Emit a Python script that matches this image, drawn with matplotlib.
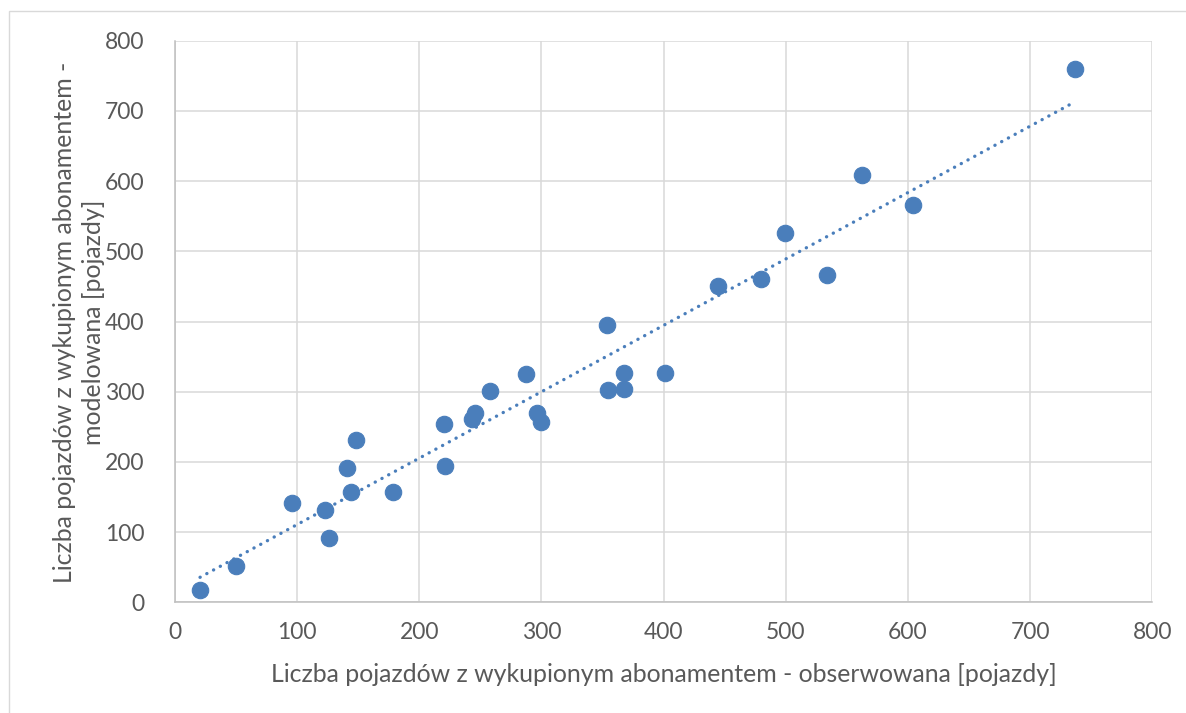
import numpy as np
import matplotlib
matplotlib.use("Agg")
import matplotlib.pyplot as plt
from matplotlib.patches import Rectangle

# Observed vs modelled values
observed = [20.5, 50.0, 96.1, 123.0, 126.2, 140.4, 143.7, 148.1, 178.4, 219.9,
            221.0, 243.2, 245.3, 258.2, 287.5, 296.2, 299.4, 353.5, 354.7, 367.5,
            367.5, 400.8, 444.2, 480.0, 499.3, 534.0, 562.1, 604.4, 736.5]
modelled = [18.1, 52.3, 141.4, 131.9, 92.3, 191.4, 157.1, 231.4, 157.1, 253.3,
            193.7, 261.0, 269.6, 300.4, 324.7, 269.4, 256.6, 394.7, 302.4, 326.7,
            304.3, 326.7, 450.6, 460.6, 526.2, 466.2, 609.3, 565.5, 759.9]
x_ticks = [0, 100, 200, 300, 400, 500, 600, 700, 800]
y_ticks = [0, 100, 200, 300, 400, 500, 600, 700, 800]
x_label = "Liczba pojazdów z wykupionym abonamentem - obserwowana [pojazdy]"
y_label = "Liczba pojazdów z wykupionym abonamentem -\nmodelowana [pojazdy]"

plt.rcParams['font.family'] = ['Lato', 'DejaVu Sans']

W, H = 1186, 713
fig = plt.figure(figsize=(W / 100, H / 100), dpi=100)
fig.patch.set_facecolor('white')

# chart border (top/left visible)
fig.patches.append(Rectangle((9 / W, -0.1), 1.2, 1 - 11 / H + 0.1,
                             transform=fig.transFigure, fill=False,
                             edgecolor='#D9D9D9', lw=1.0))

left, right = 175 / W, 1152.3 / W
bottom, top = 1 - 602.3 / H, 1 - 40.7 / H
ax = fig.add_axes([left, bottom, right - left, top - bottom])

blue = '#4A7EBB'
grid_c = '#D9D9D9'
text_c = '#595959'

x = np.array(observed)
y = np.array(modelled)
ax.scatter(x, y, s=140, color=blue, edgecolors=blue, linewidths=0.8, zorder=3)

# linear trendline
k, b = np.polyfit(x, y, 1)
xs = np.array([x.min(), x.max()])
ax.plot(xs, k * xs + b, color=blue, lw=2.4, linestyle=(0, (0.05, 2.25)),
        dash_capstyle='round', zorder=2)

ax.set_xlim(0, 800)
ax.set_ylim(0, 800)
ax.set_xticks(x_ticks)
ax.set_yticks(y_ticks)
ax.set_xticklabels([str(t) for t in x_ticks])
ax.set_yticklabels([str(t) for t in y_ticks])
ax.grid(True, color=grid_c, lw=1.1)
ax.set_axisbelow(True)
for s in ['top', 'right']:
    ax.spines[s].set_visible(False)
for s in ['left', 'bottom']:
    ax.spines[s].set_color('#BFBFBF')
    ax.spines[s].set_linewidth(1.1)
ax.tick_params(axis='both', length=0, labelsize=16.5, colors=text_c)
ax.tick_params(axis='x', pad=14)
ax.tick_params(axis='y', pad=22)

fig.text((272 + 1055) / 2 / W, 1 - 674 / H, x_label, ha='center', va='center',
         fontsize=17.9, color=text_c)
fig.text(79 / W, 1 - 322 / H, y_label, ha='center', va='center', rotation=90,
         fontsize=17.9, color=text_c, linespacing=1.35, multialignment='center')

fig.savefig('out.png', dpi=100, facecolor='white')
